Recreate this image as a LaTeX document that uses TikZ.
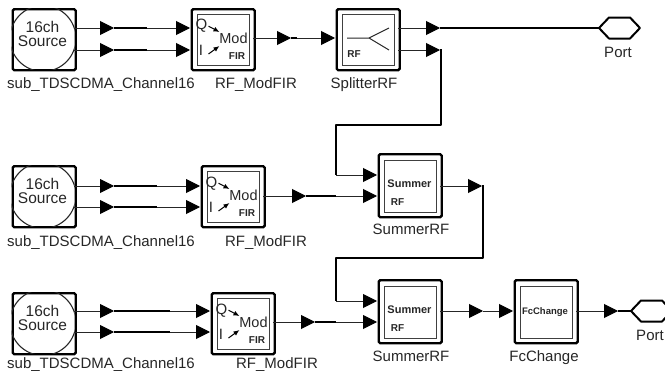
\documentclass[tikz,border=0pt]{standalone}
\usepackage{fontspec}
\setmainfont{Liberation Sans}
\usetikzlibrary{arrows.meta}
\newcommand{\fs}[1]{\fontsize{#1}{#1}\selectfont}
\tikzset{
  x=1pt,y=-1pt,
  outerbox/.style={draw=black,line width=2.4pt,rounded corners=1.5pt,minimum width=62pt,minimum height=60pt,inner sep=0pt,anchor=north west},
  innerbox/.style={draw=black!75,line width=1pt,minimum width=52pt,minimum height=51pt,inner sep=0pt,anchor=north west},
  lbl/.style={font=\fs{15},text=black!85,inner sep=0pt,anchor=base},
  srctxt/.style={font=\fs{15.5},text=black!85,inner sep=0pt,anchor=base},
  tinytxt/.style={font=\fs{10}\bfseries,text=black!85,inner sep=0pt,anchor=base},
  wire/.style={draw=black!85,line width=1pt},
  thickwire/.style={draw=black,line width=2pt},
  towire/.style={wire,-{Triangle[length=14pt,width=14pt,black]}},
  modarrow/.style={-{Latex[length=6pt,width=5pt]},draw=black,line width=1pt},
  porthex/.style={draw=black,line width=2pt,line join=round},
}
% #1 name, #2 x, #3 y
\newcommand{\srcblock}[3]{
  \begin{scope}[shift={(#2,#3)}]
    \node[outerbox,minimum width=63pt,minimum height=61pt] (#1) at (0,0) {};
    \begin{scope}
      \clip (0,0) rectangle (63,61);
      \draw[line width=1.1pt,black!85] (31.5,30.5) circle (33);
    \end{scope}
    \node[srctxt] (#1a) at (31,24.5) {16ch};
    \node[srctxt] (#1b) at (31,38.5) {Source};
  \end{scope}}
\newcommand{\modblock}[3]{
  \begin{scope}[shift={(#2,#3)}]
    \node[outerbox,minimum width=63pt,minimum height=61pt] (#1) at (0,0) {};
    \node[innerbox] (#1i) at (6,5.5) {};
    \node[font=\fs{15},inner sep=0pt,text=black!85,anchor=base] (#1q) at (11,22) {Q};
    \node[font=\fs{15},inner sep=0pt,text=black!85,anchor=base] (#1p) at (10.5,47) {I};
    \node[font=\fs{14.5},inner sep=0pt,text=black!85,anchor=base] (#1m) at (43,35) {Mod};
    \node[tinytxt] (#1f) at (46.5,51) {FIR};
    \draw[modarrow] (#1q.east) ++(1,0) -- (29,24);
    \draw[modarrow] (18,46) -- (29,38);
  \end{scope}}
\newcommand{\sumblock}[3]{
  \begin{scope}[shift={(#2,#3)}]
    \node[outerbox,minimum width=63pt,minimum height=63pt] (#1) at (0,0) {};
    \node[innerbox,minimum height=52pt] (#1i) at (6.5,7) {};
    \node[tinytxt,font=\fs{11}\bfseries] (#1s) at (32,34) {Summer};
    \node[tinytxt] (#1r) at (20,52) {RF};
  \end{scope}}
% wire with two triangles and a thick middle run: #1 start, #2 first tip, #3 end of thick run, #4 second tip, #5 y
\newcommand{\run}[5]{
  \coordinate (a) at (#1,#5); \coordinate (b) at (#2,#5); \coordinate (c) at (#3,#5); \coordinate (d) at (#4,#5);
  \draw[towire] (a) -- (b); \draw[thickwire] (b) -- (c); \draw[towire] (c) -- (d);}
\begin{document}
\begin{tikzpicture}
\useasboundingbox (0,0) rectangle (665,372);
% blocks
\srcblock{s1}{11.5}{8}
\srcblock{s2}{11.5}{165}
\srcblock{s3}{11.5}{292}
\modblock{m1}{190.5}{8}
\modblock{m2}{200.5}{165}
\modblock{m3}{210.5}{292}
% splitter
\node[outerbox,minimum width=63pt,minimum height=61pt] (sp) at (335.5,8) {};
\node[innerbox] (spi) at (341.5,13.5) {};
\coordinate (spa) at (347,38); \coordinate (spb) at (369,38);
\coordinate (spc) at (389,28); \coordinate (spd) at (389,50);
\draw[wire] (spa) -- (spb) -- (spc) (spb) -- (spd);
\node[tinytxt] (spr) at (354,57) {RF};
\sumblock{a1}{377.5}{153}
\sumblock{a2}{377.5}{279}
% FcChange
\node[outerbox,minimum width=63pt,minimum height=63pt] (fc) at (513.5,279) {};
\node[innerbox,minimum height=52pt] (fci) at (519.5,286) {};
\node[tinytxt,font=\fs{9.5}\bfseries] (fct) at (545,314) {FcChange};
% labels
\node[lbl] (l1) at (101,88.5) {sub\_TDSCDMA\_Channel16};
\node[lbl] (l2) at (256,88.5) {RF\_ModFIR};
\node[lbl] (l3) at (364,88.5) {SplitterRF};
\node[lbl] (l4) at (101,246.5) {sub\_TDSCDMA\_Channel16};
\node[lbl] (l5) at (266,246.5) {RF\_ModFIR};
\node[lbl] (l6) at (411,234) {SummerRF};
\node[lbl] (l7) at (101,368.5) {sub\_TDSCDMA\_Channel16};
\node[lbl] (l8) at (277,368.5) {RF\_ModFIR};
\node[lbl] (l9) at (411,361) {SummerRF};
\node[lbl] (l10) at (544,361) {FcChange};
\node[lbl] (l11) at (618,57) {Port};
\node[lbl] (l12) at (650,340) {Port};
% ports
\coordinate (p1w) at (599,28);
\draw[porthex] (p1w) -- (609,17.5) -- (630,17.5) -- (640,28) -- (630,38.5) -- (609,38.5) -- cycle;
\coordinate (p2w) at (631,311);
\draw[porthex] (p2w) -- (641,300.5) -- (662,300.5) -- (672,311) -- (662,321.5) -- (641,321.5) -- cycle;
% row 1
\run{74}{114}{147}{190}{28}
\run{74}{114}{147}{190}{50}
\run{253}{291}{297}{335}{38}
% splitter outputs
\coordinate (a) at (398,28); \coordinate (b) at (440,28);
\draw[towire] (a) -- (b); \draw[thickwire] (b) -- (p1w);
\coordinate (a) at (398,50); \coordinate (e) at (440,50); \coordinate (f) at (441,49);
\coordinate (g) at (441,125); \coordinate (h) at (336,125); \coordinate (i) at (336,175); \coordinate (j) at (377,175);
\draw[towire] (a) -- (e);
\draw[thickwire,line join=round] (f) -- (g) -- (h) -- (i);
\draw[towire] (i) -- (j);
% row 2
\run{74}{114}{157}{200}{186}
\run{74}{114}{157}{200}{207}
\run{263}{306}{336}{377}{196}
% summer 1 output
\coordinate (a) at (440,186); \coordinate (e) at (482,186); \coordinate (f) at (483,185);
\coordinate (g) at (483,258); \coordinate (h) at (336,258); \coordinate (i) at (336,301); \coordinate (j) at (377,301);
\draw[towire] (a) -- (e);
\draw[thickwire,line join=round] (f) -- (g) -- (h) -- (i);
\draw[towire] (i) -- (j);
% row 3
\run{74}{114}{170}{210}{311}
\run{74}{114}{170}{210}{332}
\run{273}{315}{336}{377}{322}
% summer 2 to FcChange to port
\coordinate (a) at (440,311); \coordinate (b) at (483,311); \coordinate (d) at (513,311);
\draw[towire] (a) -- (b); \draw[towire] (b) -- (d);
\coordinate (a) at (576,311); \coordinate (b) at (618,311);
\draw[towire] (a) -- (b); \draw[thickwire] (b) -- (p2w);
\end{tikzpicture}
\end{document}
